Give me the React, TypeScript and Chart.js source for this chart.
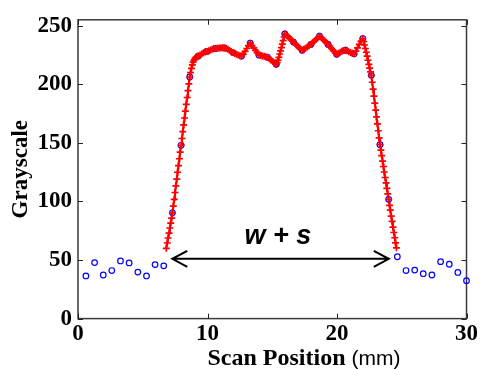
import React, { useEffect, useRef } from 'react';
import { Chart, registerables } from 'chart.js';

Chart.register(...registerables);

// Sampled grayscale profile (blue circles)
const blueX = [0.61, 1.28, 1.95, 2.61, 3.28, 3.95, 4.62, 5.29, 5.95, 6.62, 7.29, 7.96, 8.63, 9.29, 9.96, 10.63, 11.3, 11.97, 12.63, 13.3, 13.97, 14.64, 15.31, 15.97, 16.64, 17.31, 17.98, 18.65, 19.31, 19.98, 20.65, 21.32, 21.99, 22.65, 23.32, 23.99, 24.66, 25.33, 26.0, 26.66, 27.33, 28.0, 28.67, 29.33, 30.0];
const blueY = [36.4, 47.8, 37.2, 41, 49.2, 47.5, 39.7, 36.4, 46.1, 45, 90.3, 147.9, 206.2, 224, 228, 230.5, 231, 227, 224, 235, 225, 223, 217, 243, 236, 229, 234, 241, 234, 225.5, 229, 226, 239, 207.6, 148.4, 101.8, 52.8, 41, 41.4, 38.3, 37.2, 48.6, 46.4, 39.4, 32.4];

// Dense profile read along the red "+" trace
const redX = [
  6.82, 6.89, 6.96, 7.03, 7.09, 7.16, 7.23, 7.29,
  7.36, 7.43, 7.49, 7.56, 7.63, 7.69, 7.76, 7.83, 7.89, 7.96,
  8.03, 8.09, 8.16, 8.23, 8.29, 8.36, 8.43, 8.49, 8.56, 8.63,
  8.69, 8.76, 8.83, 8.89, 8.96, 9.03, 9.09, 9.16, 9.23, 9.29,
  9.43, 9.56, 9.69, 9.83, 9.96,
  10.09, 10.23, 10.36, 10.49, 10.63,
  10.76, 10.9, 11.03, 11.16, 11.3,
  11.43, 11.57, 11.7, 11.83, 11.97,
  12.1, 12.23, 12.36, 12.5, 12.63,
  12.76, 12.9, 13.03, 13.16, 13.3,
  13.43, 13.57, 13.7, 13.83, 13.97,
  14.1, 14.23, 14.37, 14.5, 14.64,
  14.77, 14.9, 15.04, 15.17, 15.31,
  15.38, 15.44, 15.51, 15.58, 15.64, 15.71, 15.78, 15.84, 15.91, 15.97,
  16.11, 16.24, 16.37, 16.51, 16.64,
  16.77, 16.91, 17.04, 17.17, 17.31,
  17.44, 17.57, 17.71, 17.84, 17.98,
  18.11, 18.24, 18.38, 18.51, 18.65,
  18.78, 18.91, 19.05, 19.18, 19.31,
  19.45, 19.58, 19.71, 19.85, 19.98,
  20.11, 20.25, 20.38, 20.51, 20.65,
  20.78, 20.91, 21.05, 21.18, 21.32,
  21.45, 21.58, 21.72, 21.85, 21.99,
  22.06, 22.12, 22.19, 22.26, 22.32, 22.39, 22.46, 22.52, 22.59, 22.65,
  22.72, 22.79, 22.85, 22.92, 22.99, 23.05, 23.12, 23.19, 23.25, 23.32,
  23.39, 23.45, 23.52, 23.59, 23.65, 23.72, 23.79, 23.85, 23.92, 23.99,
  24.06, 24.12, 24.19, 24.26, 24.32, 24.39, 24.46, 24.52, 24.59,
];
const redY = [
  60, 64.5, 68.8, 73, 77.3, 81.5, 85.8, 90.3,
  96, 101.8, 107.6, 113.3, 119.1, 124.9, 130.6, 136.4, 142.1, 147.9,
  153.7, 159.5, 165.4, 171.2, 177, 182.9, 188.7, 194.5, 200.4, 206.2,
  210, 213.5, 216.5, 218.8, 220.6, 221.9, 222.8, 223.4, 223.8, 224,
  225, 226, 226.8, 227.5, 228,
  228.6, 229.2, 229.8, 230.2, 230.5,
  230.7, 230.9, 231, 231.1, 231,
  230.5, 229.8, 229, 228, 227,
  226.3, 225.6, 225, 224.4, 224,
  225.5, 228, 230.5, 233, 235,
  233, 231, 229, 227, 225,
  224.6, 224.2, 223.8, 223.4, 223,
  221.8, 220.6, 219.4, 218.2, 217,
  218.5, 220.5, 223, 225.8, 228.5, 231.3, 234.2, 237.2, 240.3, 243,
  241.8, 240.4, 239, 237.5, 236,
  234.5, 233, 231.5, 230.2, 229,
  229.8, 230.8, 231.8, 232.9, 234,
  235.4, 236.8, 238.2, 239.6, 241,
  239.8, 238.4, 237, 235.5, 234,
  232.3, 230.5, 228.7, 227, 225.5,
  226.4, 227.3, 228.1, 228.7, 229,
  228.5, 227.8, 227.1, 226.5, 226,
  228.2, 231, 234, 236.8, 239,
  236.5, 233.5, 230.5, 227.3, 224, 220.5, 217, 213.7, 210.5, 207.6,
  201.7, 195.8, 189.8, 183.9, 178, 172.1, 166.2, 160.3, 154.3, 148.4,
  143.7, 139.1, 134.4, 129.8, 125.1, 120.4, 115.8, 111.1, 106.5, 101.8,
  96.7, 92.5, 87.5, 83, 78, 73.5, 69, 64.7, 60.4,
];

const xTicks = [0, 10, 20, 30];
const yTicks = [0, 50, 100, 150, 200, 250];
const X_MIN = 0;
const X_MAX = 30;
const Y_MIN = 0;
const Y_MAX = 255;

// Annotation (data coordinates)
const arrowX = [7.28, 24.0];
const arrowY = 51;
const labelText = 'w + s';
const labelX = 15.43;
const labelY = 64;

const xTitleBold = 'Scan Position';
const xTitleUnit = '(mm)';
const yTitle = 'Grayscale';

const SERIF = '"Liberation Serif", "Times New Roman", serif';
const SANS = '"Liberation Sans", Arial, sans-serif';

const framePlugin = {
  id: 'frame',
  beforeDatasetsDraw(chart: any) {
    const { ctx, chartArea } = chart;
    const { left, right, top, bottom } = chartArea;
    const { x, y } = chart.scales;
    ctx.save();
    ctx.strokeStyle = '#3a3a3a';
    ctx.lineWidth = 1.5;
    ctx.strokeRect(left, top, right - left, bottom - top);
    ctx.lineWidth = 1;
    ctx.strokeStyle = '#222';
    ctx.beginPath();
    for (const v of xTicks) {
      const px = Math.round(x.getPixelForValue(v)) + 0.5;
      ctx.moveTo(px, bottom);
      ctx.lineTo(px, bottom - 5);
      ctx.moveTo(px, top);
      ctx.lineTo(px, top + 5);
    }
    for (const v of yTicks) {
      const py = Math.round(y.getPixelForValue(v)) + 0.5;
      ctx.moveTo(left, py);
      ctx.lineTo(left + 5, py);
      ctx.moveTo(right, py);
      ctx.lineTo(right - 5, py);
    }
    ctx.stroke();
    ctx.restore();
  },
  afterDatasetsDraw(chart: any) {
    const { ctx, chartArea } = chart;
    const { x, y } = chart.scales;
    ctx.save();
    // double-headed arrow
    const x1 = x.getPixelForValue(arrowX[0]);
    const x2 = x.getPixelForValue(arrowX[1]);
    const ay = y.getPixelForValue(arrowY);
    ctx.strokeStyle = '#000';
    ctx.lineWidth = 2;
    ctx.beginPath();
    ctx.moveTo(x1, ay);
    ctx.lineTo(x2, ay);
    ctx.moveTo(x1 + 15, ay - 8);
    ctx.lineTo(x1, ay);
    ctx.lineTo(x1 + 15, ay + 8);
    ctx.moveTo(x2 - 15, ay - 8);
    ctx.lineTo(x2, ay);
    ctx.lineTo(x2 - 15, ay + 8);
    ctx.stroke();
    // label
    ctx.fillStyle = '#000';
    ctx.font = `italic bold 27px ${SANS}`;
    ctx.textAlign = 'center';
    ctx.textBaseline = 'alphabetic';
    ctx.fillText(labelText, x.getPixelForValue(labelX), y.getPixelForValue(labelY));
    // x-axis title (mixed fonts)
    ctx.textAlign = 'left';
    ctx.font = `bold 24px ${SERIF}`;
    const w1 = ctx.measureText(xTitleBold).width;
    ctx.font = `21px ${SANS}`;
    const w2 = ctx.measureText(xTitleUnit).width;
    const gap = 6;
    const total = w1 + gap + w2;
    const cx = 304;
    const startX = cx - total / 2;
    const baseY = chartArea.bottom + 46;
    ctx.font = `bold 24px ${SERIF}`;
    ctx.fillText(xTitleBold, startX, baseY);
    ctx.font = `21px ${SANS}`;
    ctx.fillText(xTitleUnit, startX + w1 + gap, baseY);
    ctx.restore();
  },
};

export default function App() {
  const canvasRef = useRef<HTMLCanvasElement | null>(null);

  useEffect(() => {
    if (!canvasRef.current) return;
    const redData = redX.map((v, i) => ({ x: v, y: redY[i] }));
    const blueData = blueX.map((v, i) => ({ x: v, y: blueY[i] }));
    const tickFont = { family: SERIF, weight: 'bold' as const, size: 23 };
    const chart = new Chart(canvasRef.current, {
      type: 'scatter',
      data: {
        datasets: [
          {
            label: 'Interpolated',
            data: redData,
            showLine: true,
            borderWidth: 2.2,
            pointStyle: 'cross',
            pointRadius: 3.5,
            pointBorderColor: '#ff0000',
            pointBorderWidth: 1.7,
            borderColor: '#ff0000',
            backgroundColor: '#ff0000',
            clip: false,
          } as any,
          {
            label: 'Samples',
            data: blueData,
            showLine: false,
            pointStyle: 'circle',
            pointRadius: 2.8,
            pointBorderColor: '#0000ff',
            pointBackgroundColor: 'rgba(0,0,0,0)',
            pointBorderWidth: 1.2,
            borderColor: '#0000ff',
            clip: false,
          } as any,
        ],
      },
      options: {
        responsive: false,
        animation: false,
        events: [],
        layout: { padding: { top: 15, right: 10, left: 0, bottom: 0 } },
        plugins: {
          legend: { display: false },
          tooltip: { enabled: false },
        },
        scales: {
          x: {
            type: 'linear',
            min: X_MIN,
            max: X_MAX,
            afterBuildTicks: (s: any) => {
              s.ticks = xTicks.map((v) => ({ value: v }));
            },
            afterFit: (s: any) => {
              s.height = 50.4;
            },
            grid: { display: false, drawTicks: false },
            border: { display: false },
            ticks: {
              font: tickFont,
              color: '#000',
              padding: 2,
              maxRotation: 0,
              autoSkip: false,
            },
          },
          y: {
            type: 'linear',
            min: Y_MIN,
            max: Y_MAX,
            afterBuildTicks: (s: any) => {
              s.ticks = yTicks.map((v) => ({ value: v }));
            },
            afterFit: (s: any) => {
              s.width = 78;
            },
            grid: { display: false, drawTicks: false },
            border: { display: false },
            ticks: {
              font: tickFont,
              color: '#000',
              padding: 6,
              autoSkip: false,
            },
            title: {
              display: true,
              text: yTitle,
              color: '#000',
              font: { family: SERIF, weight: 'bold', size: 23 },
              padding: { top: 7, bottom: 0 },
            },
          },
        },
      },
      plugins: [framePlugin],
    });
    return () => chart.destroy();
  }, []);

  return (
    <div style={{ position: 'absolute', left: 0, top: 0, width: 480, height: 369, background: '#fff' }}>
      <canvas ref={canvasRef} width={480} height={369} style={{ display: 'block', width: 480, height: 369 }} />
    </div>
  );
}
